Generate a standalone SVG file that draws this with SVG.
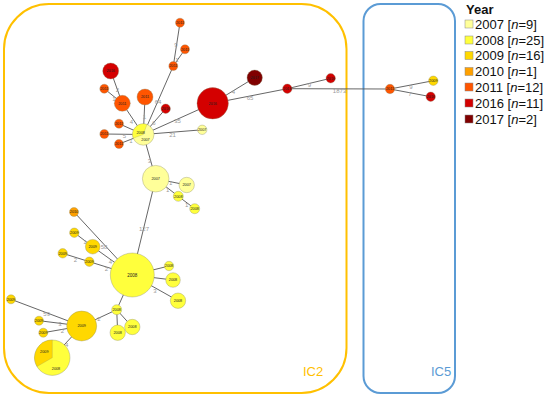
<svg xmlns="http://www.w3.org/2000/svg" width="550" height="399" viewBox="0 0 550 399">
<style>
.e{stroke:#555;stroke-width:0.9;fill:none}
.el{font-family:"Liberation Sans",Arial,sans-serif;font-size:6px;fill:#999;text-anchor:middle}
.nd{stroke:#8a8a6a;stroke-opacity:0.6;stroke-width:0.6}
.nl{font-family:"Liberation Sans",Arial,sans-serif;font-size:3.8px;fill:#222;text-anchor:middle}
.nlb{font-family:"Liberation Sans",Arial,sans-serif;font-size:4.5px;fill:#222;text-anchor:middle}
.y07{fill:#FFFF99}
.y08{fill:#FFFF3C}
.y09{fill:#FFD800}
.y10{fill:#FFA000}
.y11{fill:#FF5500}
.y16{fill:#D40000}
.y17{fill:#800000}
.lg{font-family:"Liberation Sans",Arial,sans-serif;font-size:13px;fill:#111}
.sq{stroke:#888;stroke-width:0.5}
</style>
<rect width="550" height="399" fill="#fff"/>
<g id="boxes">
<rect x="4" y="4" width="342.5" height="389" rx="45" fill="none" stroke="#FFC000" stroke-width="2"/>
<rect x="363.5" y="4" width="91.5" height="389" rx="17" fill="none" stroke="#5B9BD5" stroke-width="2"/>
<text x="303" y="376" font-family="Liberation Sans,Arial,sans-serif" font-size="13" fill="#FFC000">IC2</text>
<text x="431" y="376" font-family="Liberation Sans,Arial,sans-serif" font-size="13" fill="#5B9BD5">IC5</text>
</g>
<g id="connectors">
<line class="e" x1="180" y1="22.7" x2="173.3" y2="66"/>
<line class="e" x1="185" y1="49.3" x2="173.3" y2="66"/>
<line class="e" x1="173.3" y1="66" x2="143.3" y2="134.5"/>
<line class="e" x1="110.7" y1="71" x2="122.3" y2="103.3"/>
<line class="e" x1="104.3" y1="88.7" x2="122.3" y2="103.3"/>
<line class="e" x1="122.3" y1="103.3" x2="143.3" y2="134.5"/>
<line class="e" x1="145" y1="97" x2="143.3" y2="134.5"/>
<line class="e" x1="165.7" y1="108.7" x2="143.3" y2="134.5"/>
<line class="e" x1="212.7" y1="103.3" x2="143.3" y2="134.5"/>
<line class="e" x1="202.2" y1="129.8" x2="143.3" y2="134.5"/>
<line class="e" x1="119" y1="123.7" x2="143.3" y2="134.5"/>
<line class="e" x1="104.3" y1="134" x2="143.3" y2="134.5"/>
<line class="e" x1="119" y1="144" x2="143.3" y2="134.5"/>
<line class="e" x1="143.3" y1="134.5" x2="155.7" y2="178.7"/>
<line class="e" x1="212.7" y1="103.3" x2="254.7" y2="77.7"/>
<line class="e" x1="212.7" y1="103.3" x2="287.3" y2="88.7"/>
<line class="e" x1="287.3" y1="88.7" x2="330.7" y2="78.3"/>
<line class="e" x1="287.3" y1="88.7" x2="390" y2="89"/>
<line class="e" x1="390" y1="89" x2="433.3" y2="80.7"/>
<line class="e" x1="390" y1="89" x2="430.7" y2="96.7"/>
<line class="e" x1="155.7" y1="178.7" x2="186.7" y2="185"/>
<line class="e" x1="155.7" y1="178.7" x2="178.3" y2="196.3"/>
<line class="e" x1="178.3" y1="196.3" x2="194.7" y2="208.7"/>
<line class="e" x1="155.7" y1="178.7" x2="132.3" y2="275"/>
<line class="e" x1="74" y1="212" x2="132.3" y2="275"/>
<line class="e" x1="74.3" y1="232.7" x2="92.7" y2="246.7"/>
<line class="e" x1="92.7" y1="246.7" x2="132.3" y2="275"/>
<line class="e" x1="62.7" y1="253.3" x2="89.3" y2="261.7"/>
<line class="e" x1="89.3" y1="261.7" x2="132.3" y2="275"/>
<line class="e" x1="132.3" y1="275" x2="169" y2="266"/>
<line class="e" x1="132.3" y1="275" x2="173" y2="280"/>
<line class="e" x1="132.3" y1="275" x2="178" y2="300.7"/>
<line class="e" x1="132.3" y1="275" x2="116.7" y2="309.7"/>
<line class="e" x1="116.7" y1="309.7" x2="81.7" y2="326"/>
<line class="e" x1="116.7" y1="309.7" x2="117.7" y2="332.7"/>
<line class="e" x1="116.7" y1="309.7" x2="132.3" y2="327"/>
<line class="e" x1="81.7" y1="326" x2="11" y2="299.3"/>
<line class="e" x1="81.7" y1="326" x2="39" y2="320.7"/>
<line class="e" x1="81.7" y1="326" x2="43.3" y2="332.7"/>
<line class="e" x1="81.7" y1="326" x2="52.3" y2="357.7"/>
<text class="el" x="176" y="47">9</text>
<text class="el" x="177" y="62">1</text>
<text class="el" x="158" y="103.5">64</text>
<text class="el" x="117.5" y="92">2</text>
<text class="el" x="114" y="100.5">1</text>
<text class="el" x="131.5" y="124">4</text>
<text class="el" x="144.5" y="118.5">1</text>
<text class="el" x="154" y="125">6</text>
<text class="el" x="177.5" y="122.5">35</text>
<text class="el" x="172.5" y="137">21</text>
<text class="el" x="124.3" y="138">5</text>
<text class="el" x="131" y="142.7">1</text>
<text class="el" x="149.3" y="162.5">3</text>
<text class="el" x="233.3" y="94.3">4</text>
<text class="el" x="250" y="100.3">65</text>
<text class="el" x="309.3" y="86.7">9</text>
<text class="el" x="339.5" y="93.3">1873</text>
<text class="el" x="411" y="88.7">9</text>
<text class="el" x="410" y="96.3">7</text>
<text class="el" x="170.7" y="185.3">1</text>
<text class="el" x="167.7" y="192.3">1</text>
<text class="el" x="186.7" y="207">1</text>
<text class="el" x="144" y="231">127</text>
<text class="el" x="104" y="248.7">58</text>
<text class="el" x="85" y="244.3">1</text>
<text class="el" x="110.5" y="263.7">4</text>
<text class="el" x="75.5" y="261.5">2</text>
<text class="el" x="106.5" y="270.5">2</text>
<text class="el" x="155" y="292.7">3</text>
<text class="el" x="99" y="321.3">2</text>
<text class="el" x="46.7" y="316">59</text>
<text class="el" x="60" y="326.3">3</text>
<text class="el" x="62.3" y="333">2</text>
<text class="el" x="66.7" y="347.3">4</text>
</g>
<g id="n1"><circle class="nd y11" cx="180" cy="22.7" r="4.5"/><text class="nl" x="180" y="24">2011</text></g>
<g id="n2"><circle class="nd y11" cx="185" cy="49.3" r="4.5"/><text class="nl" x="185" y="50.6">2011</text></g>
<g id="n3"><circle class="nd y11" cx="173.3" cy="66" r="4.5"/><text class="nl" x="173.3" y="67.3">2011</text></g>
<g id="n4"><circle class="nd y16" cx="110.7" cy="71" r="8"/><text class="nl" x="110.7" y="72.3">2016</text></g>
<g id="n5"><circle class="nd y11" cx="104.3" cy="88.7" r="4.5"/><text class="nl" x="104.3" y="90">2011</text></g>
<g id="n6"><circle class="nd y11" cx="122.3" cy="103.3" r="8"/><text class="nl" x="122.3" y="104.6">2011</text></g>
<g id="n7"><circle class="nd y11" cx="145" cy="97" r="8"/><text class="nl" x="145" y="98.3">2011</text></g>
<g id="n8"><circle class="nd y16" cx="165.7" cy="108.7" r="4.7"/><text class="nl" x="165.7" y="110">2016</text></g>
<g id="n9"><circle class="nd y16" cx="212.7" cy="103.3" r="15.7"/><text class="nl" x="212.7" y="104.6">2016</text></g>
<g id="n10"><circle class="nd y17" cx="254.7" cy="77.7" r="7.7"/><text class="nl" x="254.7" y="79">2017</text></g>
<g id="n11"><circle class="nd y16" cx="287.3" cy="88.7" r="4.7"/><text class="nl" x="287.3" y="90">2016</text></g>
<g id="n12"><circle class="nd y16" cx="330.7" cy="78.3" r="4.7"/><text class="nl" x="330.7" y="79.6">2016</text></g>
<g id="n13"><circle class="nd y11" cx="119" cy="123.7" r="4.5"/><text class="nl" x="119" y="125">2011</text></g>
<g id="n14"><circle class="nd y11" cx="104.3" cy="134" r="4.5"/><text class="nl" x="104.3" y="135.3">2011</text></g>
<g id="n15"><circle class="nd y11" cx="119" cy="144" r="4.5"/><text class="nl" x="119" y="145.3">2011</text></g>
<g id="n16"><circle class="nd y07" cx="143.3" cy="134.5" r="10.7"/><path class="y08" d="M143.3 134.5 L133.24 138.16 A10.7 10.7 0 0 1 146.96 124.44 Z" stroke="#8a8a6a" stroke-opacity="0.6" stroke-width="0.4"/><text class="nl" x="140.7" y="134">2008</text><text class="nl" x="145.5" y="141">2007</text></g>
<g id="n17"><circle class="nd y07" cx="202.2" cy="129.8" r="4.7"/><text class="nl" x="202.2" y="131.1">2007</text></g>
<g id="n18"><circle class="nd y07" cx="155.7" cy="178.7" r="13.3"/><text class="nl" x="155.7" y="180">2007</text></g>
<g id="n19"><circle class="nd y07" cx="186.7" cy="185" r="7.7"/><text class="nl" x="186.7" y="186.3">2007</text></g>
<g id="n20"><circle class="nd y08" cx="178.3" cy="196.3" r="5"/><text class="nl" x="178.3" y="197.6">2008</text></g>
<g id="n21"><circle class="nd y08" cx="194.7" cy="208.7" r="5"/><text class="nl" x="194.7" y="210">2008</text></g>
<g id="n22"><circle class="nd y08" cx="132.3" cy="275" r="22"/><text class="nlb" x="132.3" y="276.6">2008</text></g>
<g id="n23"><circle class="nd y10" cx="74" cy="212" r="4.5"/><text class="nl" x="74" y="213.3">2010</text></g>
<g id="n24"><circle class="nd y09" cx="74.3" cy="232.7" r="4.7"/><text class="nl" x="74.3" y="234">2009</text></g>
<g id="n25"><circle class="nd y09" cx="92.7" cy="246.7" r="7.3"/><text class="nl" x="92.7" y="248">2009</text></g>
<g id="n26"><circle class="nd y09" cx="62.7" cy="253.3" r="4.7"/><text class="nl" x="62.7" y="254.6">2009</text></g>
<g id="n27"><circle class="nd y09" cx="89.3" cy="261.7" r="4.7"/><text class="nl" x="89.3" y="263">2009</text></g>
<g id="n28"><circle class="nd y08" cx="169" cy="266" r="4.7"/><text class="nl" x="169" y="267.3">2008</text></g>
<g id="n29"><circle class="nd y08" cx="173" cy="280" r="7.3"/><text class="nl" x="173" y="281.3">2008</text></g>
<g id="n30"><circle class="nd y08" cx="178" cy="300.7" r="7.7"/><text class="nl" x="178" y="302">2008</text></g>
<g id="n31"><circle class="nd y08" cx="116.7" cy="309.7" r="5"/><text class="nl" x="116.7" y="311">2008</text></g>
<g id="n32"><circle class="nd y08" cx="117.7" cy="332.7" r="7.7"/><text class="nl" x="117.7" y="334">2008</text></g>
<g id="n33"><circle class="nd y08" cx="132.3" cy="327" r="7.7"/><text class="nl" x="132.3" y="328.3">2008</text></g>
<g id="n34"><circle class="nd y09" cx="81.7" cy="326" r="15"/><text class="nl" x="81.7" y="327.3">2009</text></g>
<g id="n35"><circle class="nd y09" cx="11" cy="299.3" r="4.5"/><text class="nl" x="11" y="300.6">2009</text></g>
<g id="n36"><circle class="nd y09" cx="39" cy="320.7" r="4.5"/><text class="nl" x="39" y="322">2009</text></g>
<g id="n37"><circle class="nd y09" cx="43.3" cy="332.7" r="4.5"/><text class="nl" x="43.3" y="334">2009</text></g>
<g id="n38"><circle class="nd y08" cx="52.3" cy="357.7" r="17.7"/><path class="y09" d="M52.3 357.7 L36.97 366.55 A17.7 17.7 0 0 1 52.3 340 Z" stroke="#8a8a6a" stroke-opacity="0.6" stroke-width="0.4"/><text class="nl" x="44.3" y="353">2009</text><text class="nl" x="56" y="369.5">2008</text></g>
<g id="n39"><circle class="nd y11" cx="390" cy="89" r="4.7"/><text class="nl" x="390" y="90.3">2011</text></g>
<g id="n40"><circle class="nd y09" cx="433.3" cy="80.7" r="4.7"/><text class="nl" x="433.3" y="82">2009</text></g>
<g id="n41"><circle class="nd y16" cx="430.7" cy="96.7" r="4.7"/><text class="nl" x="430.7" y="98">2016</text></g>
<g id="legend">
<text class="lg" x="466" y="14" font-weight="bold">Year</text>
<rect class="sq y07" x="465" y="20" width="8" height="8"/><text class="lg" x="475" y="28.5">2007 [<tspan font-style="italic">n</tspan>=9]</text>
<rect class="sq y08" x="465" y="36" width="8" height="8"/><text class="lg" x="475" y="44.5">2008 [<tspan font-style="italic">n</tspan>=25]</text>
<rect class="sq y09" x="465" y="51.5" width="8" height="8"/><text class="lg" x="475" y="60">2009 [<tspan font-style="italic">n</tspan>=16]</text>
<rect class="sq y10" x="465" y="67.5" width="8" height="8"/><text class="lg" x="475" y="76">2010 [<tspan font-style="italic">n</tspan>=1]</text>
<rect class="sq y11" x="465" y="83" width="8" height="8"/><text class="lg" x="475" y="91.5">2011 [<tspan font-style="italic">n</tspan>=12]</text>
<rect class="sq y16" x="465" y="99" width="8" height="8"/><text class="lg" x="475" y="107.5">2016 [<tspan font-style="italic">n</tspan>=11]</text>
<rect class="sq y17" x="465" y="115" width="8" height="8"/><text class="lg" x="475" y="123.5">2017 [<tspan font-style="italic">n</tspan>=2]</text>
</g>
</svg>
